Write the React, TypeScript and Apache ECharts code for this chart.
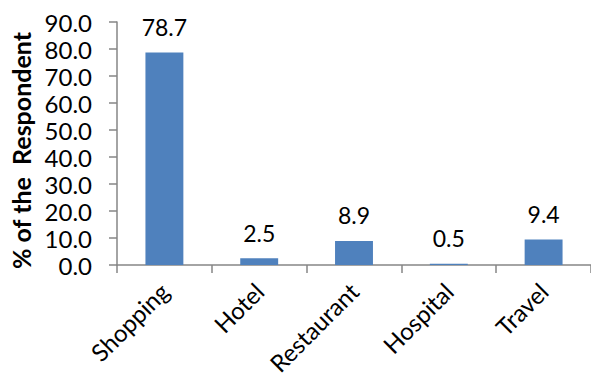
import React, { useEffect, useRef } from "react";
import * as echarts from "echarts";

const categories = ["Shopping", "Hotel", "Restaurant", "Hospital", "Travel"];
const values = [78.7, 2.5, 8.9, 0.5, 9.4];
const yTicks = { min: 0, max: 90, interval: 10 };

export default function App() {
  const ref = useRef<HTMLDivElement>(null);
  useEffect(() => {
    document.body.style.margin = "0";
    const chart = echarts.init(ref.current!, null, { renderer: "svg" });
    const font = "Lato";
    chart.setOption({
      animation: false,
      backgroundColor: "#ffffff",
      grid: { left: 117, right: 0, top: 22, bottom: 118, containLabel: false, outerBoundsMode: "none" },
      xAxis: {
        type: "category",
        data: categories,
        axisLine: { lineStyle: { color: "#868686", width: 1.5 } },
        axisTick: { show: true, length: 8, lineStyle: { color: "#868686", width: 1.5 } },
        axisLabel: {
          rotate: 45,
          interval: 0,
          margin: 22,
          color: "#000",
          fontSize: 24,
          fontFamily: font,
        },
      },
      yAxis: {
        type: "value",
        min: yTicks.min,
        max: yTicks.max,
        interval: yTicks.interval,
        name: "% of the  Respondent",
        nameLocation: "middle",
        nameGap: 82,
        nameTextStyle: {
          color: "#000",
          fontSize: 25,
          fontWeight: "bold",
          fontFamily: font,
          padding: [0, 14, 0, 0],
        },
        axisLine: { show: true, lineStyle: { color: "#868686", width: 1.5 } },
        axisTick: { show: true, length: 8, lineStyle: { color: "#868686", width: 1.5 } },
        splitLine: { show: false },
        axisLabel: {
          color: "#000",
          fontSize: 24,
          fontFamily: font,
          margin: 25,
          formatter: (v: number) => v.toFixed(1),
        },
      },
      series: [
        {
          type: "bar",
          data: values,
          barWidth: "40%",
          itemStyle: { color: "#4F81BD" },
          label: {
            show: true,
            position: "top",
            distance: 14,
            color: "#000",
            fontSize: 23,
            fontFamily: font,
            formatter: (p: any) => Number(p.value).toFixed(1),
          },
        },
      ],
    });
    return () => chart.dispose();
  }, []);
  return <div ref={ref} style={{ width: 591, height: 383 }} />;
}
